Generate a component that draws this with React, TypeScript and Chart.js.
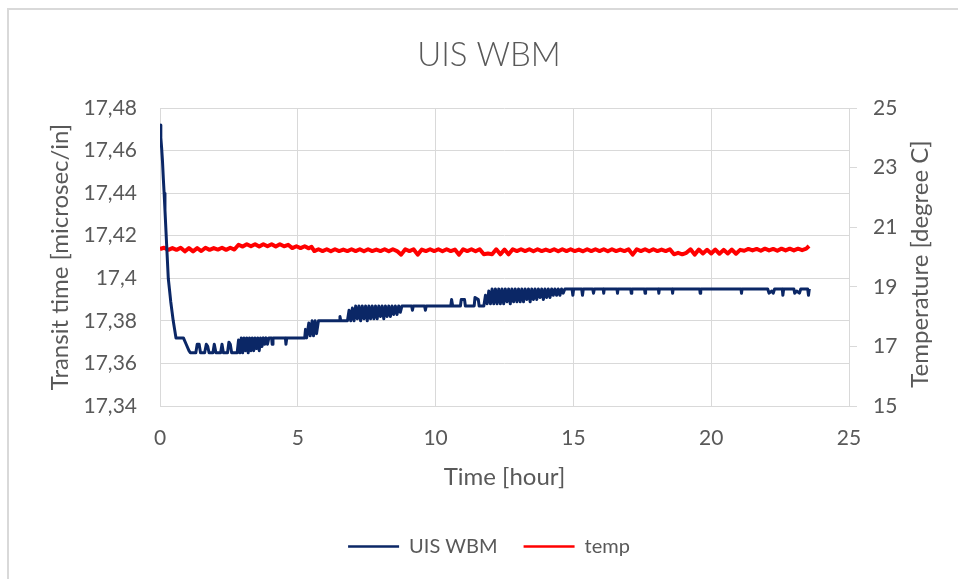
import React, { useEffect, useRef } from "react";
import { Chart, registerables } from "chart.js";

Chart.register(...registerables);

const FONT = "Lato, 'Open Sans', sans-serif";
const TEXT = "#595959";
const GRID = "#d9d9d9";
const BLUE = "#0b2766";
const RED = "#ff0000";

const chartTitle = "UIS WBM";
const xTitle = "Time [hour]";
const leftTitle = "Transit time [microsec/in]";
const rightTitle = "Temperature [degree C]";
const seriesNames = ["UIS WBM", "temp"];

const xTicks = [0, 5, 10, 15, 20, 25];
const leftTicks = [17.34, 17.36, 17.38, 17.4, 17.42, 17.44, 17.46, 17.48];
const rightTicks = [15, 17, 19, 21, 23, 25];

// UIS WBM transit time (hours, microsec/in)
const uisTime = [
  0, 0.03, 0.06, 0.09, 0.12, 0.15, 0.18, 0.21, 0.24, 0.27, 0.3, 0.35, 0.39, 0.44, 0.48, 0.53, 0.58, 0.85, 0.95, 1.05, 1.1,
  1.3, 1.35, 1.42, 1.47, 1.62, 1.68, 1.73, 1.78, 1.92, 1.97, 2.03, 2.2, 2.25, 2.3, 2.45, 2.5, 2.55, 2.6, 2.75,
  2.8, 2.85, 2.9, 2.95, 3.0, 3.05, 3.1, 3.15, 3.2, 3.25, 3.3, 3.35,
  3.4, 3.45, 3.5, 3.55, 3.6, 3.65, 3.7, 3.75, 3.8, 3.85, 3.9, 3.95,
  4.05, 4.07, 4.1, 4.55, 4.57, 4.6, 5.25,
  5.28, 5.32, 5.4, 5.45, 5.52, 5.57, 5.63, 5.68, 5.75,
  6.5, 6.53, 6.56, 6.75,
  6.8, 6.86, 6.92, 6.98, 7.04, 7.1, 7.16, 7.22, 7.28, 7.34,
  7.4, 7.46, 7.52, 7.58, 7.64, 7.7, 7.76, 7.82, 7.88, 7.94,
  8.0, 8.06, 8.12, 8.18, 8.24, 8.3, 8.36, 8.42, 8.48, 8.54,
  8.6, 8.66, 8.72, 8.78,
  9.13, 9.16, 9.19, 9.6, 9.63, 9.66, 10.55,
  10.58, 10.62, 10.9, 10.93, 11.05, 11.08, 11.4, 11.43, 11.55, 11.58,
  11.75, 11.81, 11.87, 11.93, 11.99, 12.05, 12.11, 12.17, 12.23, 12.29,
  12.35, 12.41, 12.47, 12.53, 12.59, 12.65, 12.71, 12.77, 12.83, 12.89,
  12.95, 13.01, 13.07, 13.13, 13.19, 13.25, 13.31, 13.37, 13.43, 13.49,
  13.55, 13.61, 13.67, 13.73, 13.79, 13.85, 13.91, 13.97, 14.03, 14.09,
  14.15, 14.21, 14.27, 14.33, 14.39, 14.45, 14.51, 14.57, 14.63, 14.69,
  14.95, 14.98, 15.01, 15.3, 15.33, 15.36, 15.7, 15.73, 15.76,
  16.08, 16.1, 16.12, 16.58, 16.6, 16.62, 17.08, 17.1, 17.12, 17.58, 17.6, 17.62,
  18.08, 18.1, 18.12, 18.58, 18.6, 18.62, 19.58, 19.6, 19.62, 21.08, 21.1, 21.12,
  22.05, 22.1, 22.2, 22.25, 22.3, 22.58, 22.6, 22.63, 23.0, 23.03, 23.1, 23.2, 23.25, 23.5, 23.53, 23.56,
];
const uisValue = [
  17.472, 17.466, 17.461, 17.455, 17.447, 17.44, 17.432, 17.424, 17.416, 17.408, 17.4, 17.394, 17.389, 17.384, 17.38, 17.376, 17.372, 17.372, 17.369, 17.366, 17.365,
  17.365, 17.369, 17.369, 17.365, 17.365, 17.369, 17.368, 17.365, 17.365, 17.369, 17.365, 17.365, 17.369, 17.365, 17.365, 17.37, 17.369, 17.365, 17.365,
  17.365, 17.371, 17.365, 17.372, 17.365, 17.372, 17.366, 17.372, 17.365, 17.372, 17.366, 17.372,
  17.366, 17.372, 17.367, 17.372, 17.366, 17.372, 17.368, 17.372, 17.369, 17.372, 17.369, 17.372,
  17.372, 17.369, 17.372, 17.372, 17.369, 17.372, 17.372,
  17.376, 17.372, 17.379, 17.373, 17.38, 17.373, 17.38, 17.374, 17.38,
  17.38, 17.382, 17.38, 17.38,
  17.38, 17.385, 17.38, 17.386, 17.38, 17.387, 17.381, 17.387, 17.38, 17.387,
  17.381, 17.387, 17.38, 17.387, 17.381, 17.387, 17.381, 17.387, 17.381, 17.387,
  17.382, 17.387, 17.381, 17.387, 17.382, 17.387, 17.382, 17.387, 17.383, 17.387,
  17.383, 17.387, 17.384, 17.387,
  17.387, 17.385, 17.387, 17.387, 17.385, 17.387, 17.387,
  17.39, 17.387, 17.387, 17.39, 17.39, 17.387, 17.387, 17.391, 17.39, 17.387,
  17.387, 17.392, 17.388, 17.394, 17.388, 17.395, 17.388, 17.395, 17.388, 17.395,
  17.388, 17.395, 17.388, 17.395, 17.389, 17.395, 17.388, 17.395, 17.389, 17.395,
  17.389, 17.395, 17.389, 17.395, 17.389, 17.395, 17.39, 17.395, 17.389, 17.395,
  17.39, 17.395, 17.39, 17.395, 17.391, 17.395, 17.39, 17.395, 17.391, 17.395,
  17.391, 17.395, 17.392, 17.395, 17.392, 17.395, 17.392, 17.395, 17.393, 17.395,
  17.395, 17.392, 17.395, 17.395, 17.392, 17.395, 17.395, 17.393, 17.395,
  17.395, 17.393, 17.395, 17.395, 17.393, 17.395, 17.395, 17.393, 17.395, 17.395, 17.393, 17.395,
  17.395, 17.393, 17.395, 17.395, 17.393, 17.395, 17.395, 17.393, 17.395, 17.395, 17.393, 17.395,
  17.395, 17.393, 17.394, 17.393, 17.395, 17.395, 17.392, 17.395, 17.395, 17.393, 17.394, 17.393, 17.395, 17.395, 17.392, 17.395,
];

// temperature (hours, degree C)
const tempTime = [
  0, 0.15, 0.3, 0.45, 0.6, 0.75, 0.9, 1.05, 1.2, 1.35,
  1.5, 1.65, 1.8, 1.95, 2.1, 2.25, 2.4, 2.55, 2.7, 2.85,
  3.0, 3.15, 3.3, 3.45, 3.6, 3.75, 3.9, 4.05, 4.2, 4.35,
  4.5, 4.65, 4.8, 4.95, 5.1, 5.25, 5.4, 5.5,
  5.6, 5.75, 5.9, 6.05, 6.2, 6.35, 6.5, 6.65, 6.8, 6.95,
  7.1, 7.25, 7.4, 7.55, 7.7, 7.85, 8.0, 8.15, 8.3, 8.45,
  8.6, 8.75, 8.9, 9.05, 9.2, 9.35, 9.5, 9.65, 9.8, 9.95,
  10.1, 10.25, 10.4, 10.55, 10.7, 10.85, 11.0, 11.15, 11.3, 11.45,
  11.6, 11.75, 11.9, 12.05, 12.2, 12.35, 12.5, 12.65, 12.8, 12.95,
  13.1, 13.25, 13.4, 13.55, 13.7, 13.85, 14.0, 14.15, 14.3, 14.45,
  14.6, 14.75, 14.9, 15.05, 15.2, 15.35, 15.5, 15.65, 15.8, 15.95,
  16.1, 16.25, 16.4, 16.55, 16.7, 16.85, 17.0, 17.15, 17.3, 17.45,
  17.6, 17.75, 17.9, 18.05, 18.2, 18.35, 18.5, 18.65, 18.8, 18.95,
  19.1, 19.25, 19.4, 19.55, 19.7, 19.85, 20.0, 20.15, 20.3, 20.45,
  20.6, 20.75, 20.9, 21.05, 21.2, 21.35, 21.5, 21.65, 21.8, 21.95,
  22.1, 22.25, 22.4, 22.55, 22.7, 22.85, 23.0, 23.15, 23.3, 23.45,
  23.55,
];
const tempValue = [
  20.27, 20.31, 20.24, 20.3, 20.24, 20.31, 20.19, 20.3, 20.19, 20.3,
  20.2, 20.31, 20.24, 20.3, 20.25, 20.31, 20.24, 20.31, 20.25, 20.41,
  20.35, 20.43, 20.36, 20.43, 20.35, 20.43, 20.36, 20.43, 20.35, 20.43,
  20.36, 20.41, 20.3, 20.36, 20.3, 20.36, 20.29, 20.34,
  20.2, 20.26, 20.2, 20.26, 20.19, 20.26, 20.2, 20.25, 20.2, 20.26,
  20.2, 20.26, 20.19, 20.26, 20.2, 20.25, 20.2, 20.26, 20.19, 20.26,
  20.2, 20.08, 20.26, 20.2, 20.26, 20.08, 20.25, 20.2, 20.26, 20.2,
  20.26, 20.19, 20.26, 20.2, 20.25, 20.08, 20.26, 20.2, 20.26, 20.19,
  20.26, 20.09, 20.12, 20.09, 20.26, 20.09, 20.25, 20.09, 20.26, 20.2,
  20.26, 20.2, 20.26, 20.19, 20.26, 20.2, 20.25, 20.2, 20.26, 20.19,
  20.26, 20.2, 20.26, 20.2, 20.25, 20.19, 20.26, 20.2, 20.26, 20.2,
  20.26, 20.19, 20.26, 20.2, 20.25, 20.2, 20.26, 20.08, 20.26, 20.2,
  20.26, 20.19, 20.26, 20.2, 20.25, 20.2, 20.26, 20.09, 20.14, 20.09,
  20.14, 20.26, 20.08, 20.25, 20.12, 20.24, 20.12, 20.25, 20.11, 20.24,
  20.12, 20.25, 20.11, 20.24, 20.21, 20.27, 20.22, 20.27, 20.21, 20.28,
  20.22, 20.27, 20.21, 20.28, 20.22, 20.28, 20.22, 20.28, 20.23, 20.28,
  20.37,
];

const fmtLeft = (v: number) => String(Math.round(v * 100) / 100).replace(".", ",");

const rightTitlePlugin = {
  id: "rightTitle",
  afterDraw(chart: any) {
    const s = chart.scales.y2;
    const ca = chart.chartArea;
    const ctx = chart.ctx;
    ctx.save();
    ctx.font = `24px ${FONT}`;
    ctx.fillStyle = TEXT;
    ctx.textAlign = "center";
    ctx.textBaseline = "middle";
    ctx.translate(s.right - 38, (ca.top + ca.bottom) / 2 + 7);
    ctx.rotate(-Math.PI / 2);
    ctx.fillText(rightTitle, 0, 0);
    ctx.restore();
  },
};

export default function App() {
  const ref = useRef<HTMLCanvasElement | null>(null);

  useEffect(() => {
    if (!ref.current) return;
    const chart = new Chart(ref.current, {
      type: "line",
      data: {
        datasets: [
          {
            label: seriesNames[0],
            data: uisTime.map((t, i) => ({ x: t, y: uisValue[i] })),
            borderColor: BLUE,
            backgroundColor: BLUE,
            borderWidth: 3,
            borderJoinStyle: "round",
            pointRadius: 0,
            tension: 0,
            yAxisID: "y",
          },
          {
            label: seriesNames[1],
            data: tempTime.map((t, i) => ({ x: t, y: tempValue[i] })),
            borderColor: RED,
            backgroundColor: RED,
            borderWidth: 4,
            borderJoinStyle: "round",
            pointRadius: 0,
            tension: 0,
            yAxisID: "y2",
          },
        ],
      },
      options: {
        animation: false,
        responsive: false,
        devicePixelRatio: 1,
        events: [],
        layout: { padding: { left: 20, right: 0, top: 0, bottom: 12.5 } },
        plugins: {
          title: {
            display: true,
            text: chartTitle,
            color: TEXT,
            font: { family: FONT, size: 33, weight: "300" },
            padding: { top: 35.2, bottom: 33.2 },
          },
          legend: {
            position: "bottom",
            labels: {
              color: TEXT,
              font: { family: FONT, size: 20 },
              boxWidth: 51,
              boxHeight: 2.5,
              padding: 26,
              generateLabels: (c: any) =>
                (Chart.defaults.plugins.legend.labels as any)
                  .generateLabels(c)
                  .map((l: any) => ({ ...l, lineWidth: 0, fillStyle: l.strokeStyle })),
            },
          },
          tooltip: { enabled: false },
        },
        scales: {
          x: {
            type: "linear",
            position: "bottom",
            min: 0,
            max: 25,
            afterBuildTicks: (s: any) => {
              s.ticks = xTicks.map((v) => ({ value: v }));
            },
            afterFit: (s: any) => {
              s.height = 104.5;
            },
            grid: { color: GRID, drawTicks: false },
            border: { color: GRID },
            ticks: { color: TEXT, font: { family: FONT, size: 21 }, padding: 19.4 },
            title: {
              display: true,
              text: xTitle,
              color: TEXT,
              font: { family: FONT, size: 24 },
              padding: { top: 0, bottom: 19.1 },
            },
          },
          y: {
            type: "linear",
            position: "left",
            min: 17.34,
            max: 17.48,
            afterBuildTicks: (s: any) => {
              s.ticks = leftTicks.map((v) => ({ value: v }));
            },
            afterFit: (s: any) => {
              s.width = 140;
            },
            grid: { color: GRID, drawTicks: false },
            border: { display: false },
            ticks: {
              color: TEXT,
              font: { family: FONT, size: 21 },
              padding: 23,
              callback: (v: any) => fmtLeft(Number(v)),
            },
            title: {
              display: true,
              text: leftTitle,
              color: TEXT,
              font: { family: FONT, size: 24 },
              padding: { top: 25.6, bottom: 0 },
            },
          },
          y2: {
            type: "linear",
            position: "right",
            min: 15,
            max: 25,
            afterBuildTicks: (s: any) => {
              s.ticks = rightTicks.map((v) => ({ value: v }));
            },
            afterFit: (s: any) => {
              s.width = 109;
            },
            grid: { drawOnChartArea: false, color: GRID, tickLength: 8 },
            border: { color: GRID },
            ticks: { color: TEXT, font: { family: FONT, size: 21 }, padding: 16 },
          },
        },
      } as any,
      plugins: [rightTitlePlugin],
    });
    return () => chart.destroy();
  }, []);

  return (
    <div style={{ position: "absolute", left: 0, top: 0, width: 958, height: 579, overflow: "hidden", background: "#fff" }}>
      <div
        style={{
          position: "absolute",
          left: 7,
          top: 8,
          width: 960,
          height: 580,
          borderLeft: "2px solid #d9d9d9",
          borderTop: "2px solid #d9d9d9",
        }}
      />
      <canvas ref={ref} width={958} height={579} style={{ position: "absolute", left: 0, top: 0, display: "block" }} />
    </div>
  );
}
